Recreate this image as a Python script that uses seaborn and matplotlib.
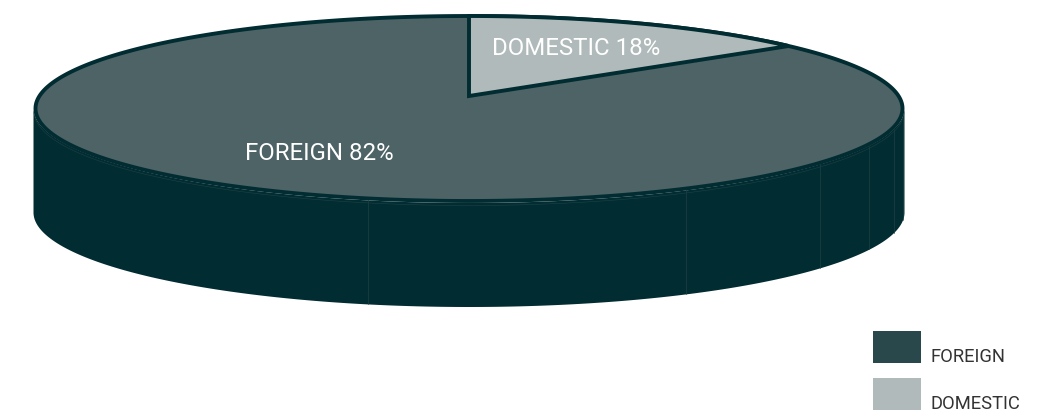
import numpy as np
import matplotlib
matplotlib.use("Agg")
import matplotlib.pyplot as plt
from matplotlib.patches import Rectangle
import seaborn as sns

categories = ["FOREIGN", "DOMESTIC"]
shares = [82, 18]
seam_positions = [368, 686, 820, 869, 894, 903]

sns.set_theme(style="white")
plt.rcParams["font.family"] = ["Roboto", "DejaVu Sans"]

TOP_FOREIGN, TOP_DOMESTIC = sns.color_palette(["#4d6366", "#b0baba"])
SIDE = "#012c31"
LEGEND_FOREIGN = "#29484b"

# Ellipse geometry of the disc, in pixel-like axes units
CX, CY = 469.0, 108.5
RX, RY = 433.5, 92.5
DEPTH = 104.0
APEX_Y = 96.0
FORESHORTEN = 47.5 / 64.8  # the far rim is compressed by the viewing angle


def rim(theta_deg, rx=RX, ry=RY, cy=CY):
    """Point on the rim, angle measured clockwise from the top."""
    t = np.radians(theta_deg)
    return CX + rx * np.sin(t), cy - ry * np.cos(t)


fig = plt.figure(figsize=(10.43, 4.12), dpi=100)
ax = fig.add_axes([0, 0, 1, 1])
ax.set_xlim(0, 1043)
ax.set_ylim(412, 0)
ax.axis("off")

# Cylinder wall
theta = np.linspace(90, 270, 300)
ox, oy = rim(theta, RX + 2, RY + 2)
ax.fill(np.r_[ox, ox[::-1]], np.r_[oy, oy[::-1] + DEPTH], color=SIDE, lw=0, zorder=1)

# Faint seams on the wall
for sx in seam_positions:
    s = (sx - CX) / (RX + 2)
    y0 = CY + (RY + 2) * np.sqrt(1 - s ** 2)
    ax.plot([sx, sx], [y0, y0 + DEPTH - 0.5], color="#1d4045", lw=0.5, zorder=2)

# Thin highlight just beneath the rim
hx, hy = rim(np.linspace(90, 270, 300), RX + 1.5, RY + 1.5, CY + 3)
ax.plot(hx, hy, color="#1d4045", lw=0.4, zorder=2)

# Top face
full = np.linspace(0, 360, 720)
ex, ey = rim(full)
ax.fill(ex, ey, facecolor=TOP_FOREIGN, edgecolor=SIDE, lw=2.8, zorder=3)

# Domestic slice
sweep = shares[1] / sum(shares) * 360 * FORESHORTEN
wx, wy = rim(np.linspace(0, sweep, 120))
ax.fill(np.r_[CX, wx], np.r_[APEX_Y, wy], facecolor=TOP_DOMESTIC, edgecolor=SIDE,
        lw=2.8, joinstyle="miter", zorder=4)

# Value labels
ax.text(319, 153.5, f"{categories[0]} {shares[0]}%", color="white", fontsize=17.3,
        ha="center", va="center", zorder=5)
ax.text(576.5, 48.5, f"{categories[1]} {shares[1]}%", color="white", fontsize=17.3,
        ha="center", va="center", zorder=5)

# Key
for name, colour, top in zip(categories, [LEGEND_FOREIGN, TOP_DOMESTIC], [331, 378]):
    ax.add_patch(Rectangle((873, top), 48, 32, facecolor=colour, lw=0, zorder=5))
    ax.text(931, top + 31, name, color="#333333", fontsize=13.2, ha="left",
            va="baseline", zorder=5)

fig.savefig("out.png", dpi=100)
